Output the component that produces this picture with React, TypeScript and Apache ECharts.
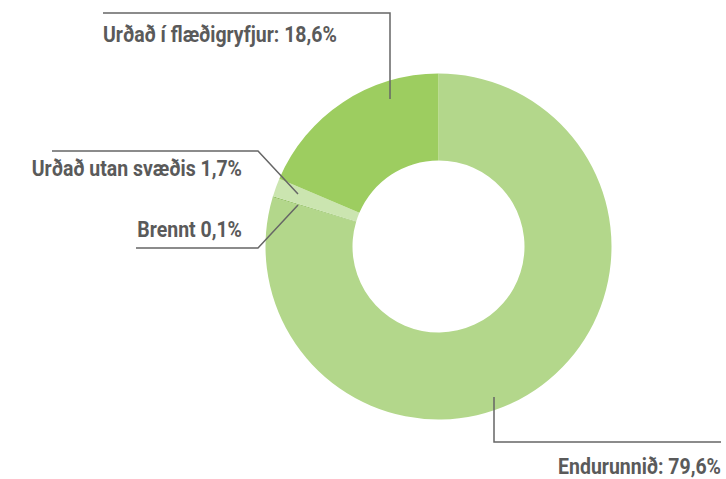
import React, { useEffect, useRef } from "react";
import * as echarts from "echarts";

const categories = ["Endurunnið", "Brennt", "Urðað utan svæðis", "Urðað í flæðigryfjur"];
const values = [79.6, 0.1, 1.7, 18.6];
const labelTexts = ["Endurunnið: 79,6%", "Brennt 0,1%", "Urðað utan svæðis 1,7%", "Urðað í flæðigryfjur: 18,6%"];
const colors = ["#b3d78b", "#8fbf5c", "#cbe5b0", "#9dcd60"];

// label placement (x, y, align) and leader line points per slice
const labelPos: any[] = [
  { x: 721, y: 466.5, align: "right", pts: [[494, 397], [494, 442], [721, 442]] },
  { x: 242, y: 230, align: "right", pts: [[298, 205], [258, 248], [136, 248]] },
  { x: 242, y: 169, align: "right", pts: [[298, 194], [258, 151], [52, 151]] },
  { x: 103, y: 35, align: "left", pts: [[390, 99], [390, 13], [103, 13]] },
];

const FONT_FAMILY = "Roboto";
const FONT_SIZE = 22;
const REF_WIDTH_LABEL1 = 234; // measured width of the top label in the reference

export default function App() {
  const ref = useRef<HTMLDivElement>(null);
  useEffect(() => {
    document.body.style.margin = "0";
    const cv = document.createElement("canvas");
    const ctx = cv.getContext("2d")!;
    ctx.font = `bold ${FONT_SIZE}px ${FONT_FAMILY}`;
    const w = ctx.measureText(labelTexts[3]).width;
    const sx = REF_WIDTH_LABEL1 / w;

    const chart = echarts.init(ref.current!, undefined, { renderer: "svg" });
    const graphics: any[] = [];
    labelPos.forEach((l, i) => {
      graphics.push({
        type: "polyline",
        z: 10,
        shape: { points: l.pts },
        style: { stroke: "#666666", lineWidth: 1.5, fill: null },
        silent: true,
      });
      graphics.push({
        type: "text",
        z: 10,
        x: l.x,
        y: l.y,
        scaleX: sx,
        style: {
          x: 0,
          y: 0,
          text: labelTexts[i],
          fontFamily: FONT_FAMILY,
          fontWeight: "bold",
          fontSize: FONT_SIZE,
          fill: "#5a5a5a",
          align: l.align,
          verticalAlign: "middle",
        },
        silent: true,
      });
    });
    chart.setOption({
      animation: false,
      backgroundColor: "#ffffff",
      series: [
        {
          type: "pie",
          center: [438.5, 246.5],
          radius: [86, 173],
          startAngle: 90,
          clockwise: true,
          minAngle: 0,
          label: { show: false },
          labelLine: { show: false },
          data: categories.map((c, i) => ({
            name: c,
            value: values[i],
            itemStyle: { color: colors[i] },
          })),
          emphasis: { disabled: true },
        },
      ],
      graphic: graphics,
    });
    return () => chart.dispose();
  }, []);
  return <div ref={ref} style={{ width: 726, height: 479 }} />;
}
